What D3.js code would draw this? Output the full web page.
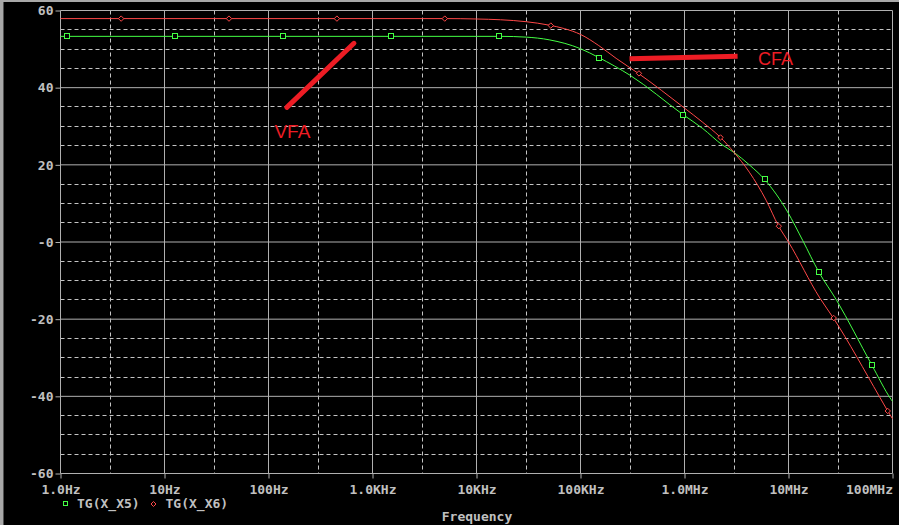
<!DOCTYPE html>
<html><head><meta charset="utf-8">
<script src="https://cdn.jsdelivr.net/npm/d3@7"></script>
<style>
html,body{margin:0;padding:0;background:#000;overflow:hidden}
svg{display:block}
</style></head>
<body>
<script>
// ---- data ----
const xTickValues = [1, 10, 100, 1e3, 1e4, 1e5, 1e6, 1e7, 1e8];
const xTickLabels = ["1.0Hz","10Hz","100Hz","1.0KHz","10KHz","100KHz","1.0MHz","10MHz","100MHz"];
const yTickValues = [-60, -40, -20, 0, 20, 40, 60];
const yTickLabels = ["-60","-40","-20","-0","20","40","60"];
const xMinorValues = [3, 30, 300, 3e3, 3e4, 3e5, 3e6, 3e7];
const yMinorValues = [-55,-50,-45,-35,-30,-25,-15,-10,-5,5,10,15,25,30,35,45,50,55];

// TG(X_X6) (CFA, red)
const x6Freq = [1, 1e3, 5e3, 1e4, 1.7e4, 3e4, 5e4, 7e4, 1e5, 1.5e5, 2.2e5, 3.6e5, 1e6, 1.5e6, 2.2e6, 3e6, 4.2e6, 6.1e6, 8e6, 1e7, 2e7, 2.7e7, 7.5e7, 9e7, 1e8];
const x6dB   = [57.9, 57.9, 57.9, 57.8, 57.6, 57.1, 56.2, 55.3, 53.8, 50.9, 47.6, 43.7, 34.7, 31.0, 27.2, 23.2, 18.1, 10.8, 4.2, 0.0, -14.5, -19.7, -40.1, -43.8, -45.8];
const x6MarkFreq = [3.83, 41.7, 455, 4955, 5.18e4, 3.65e5, 2.22e6, 8.07e6, 2.72e7, 9.0e7];
const x6MarkdB   = [57.9, 57.9, 57.9, 57.9, 56.1, 43.7, 27.1, 4.1, -19.7, -43.8];

// TG(X_X5) (VFA, green)
const x5Freq = [1, 1e3, 1e4, 1.7e4, 3e4, 5e4, 1e5, 1.5e5, 3e5, 9.7e5, 1.5e6, 2.3e6, 3e6, 4.2e6, 5.9e6, 9.8e6, 1.37e7, 1.95e7, 2.9e7, 6.3e7, 9.7e7, 1e8];
const x5dB   = [53.3, 53.3, 53.3, 53.3, 53.1, 52.4, 50.1, 47.8, 43.2, 33.0, 29.4, 25.2, 23.2, 20.0, 16.2, 7.8, 0.4, -7.7, -15.1, -31.8, -40.8, -41.3];
const x5MarkFreq = [1.16, 12.6, 138, 1503, 1.64e4, 1.507e5, 9.66e5, 5.92e6, 1.95e7, 6.31e7];
const x5MarkdB   = [53.3, 53.3, 53.3, 53.3, 53.3, 47.8, 33.0, 16.2, -7.7, -31.8];

const legendLabels = ["TG(X_X5)", "TG(X_X6)"];
const xTitle = "Frequency";
// hand-drawn annotations (in data coordinates)
const vfaStroke = [[150, 34.9], [663, 51.5]];
const vfaText = {f: 114, dB: 26.9, label: "VFA"};
const cfaStroke = [[2.96e5, 47.5], [3.24e6, 48.15]];
const cfaText = {f: 5.1e6, dB: 45.8, label: "CFA"};

// ---- drawing ----
const W = 899, H = 525;
const svg = d3.select("body").append("svg").attr("width", W).attr("height", H);
svg.append("rect").attr("width", W).attr("height", H).attr("fill", "#000");
// window borders
svg.append("rect").attr("x",0).attr("y",0).attr("width",3).attr("height",H).attr("fill","#a8a8a8");
svg.append("rect").attr("x",3).attr("y",0).attr("width",1).attr("height",H).attr("fill","#505050");
svg.append("rect").attr("x",0).attr("y",0).attr("width",W).attr("height",2).attr("fill","#a8a8a8");

const x = d3.scaleLog().domain([1, 1e8]).range([60.5, 892.5]);
const y = d3.scaleLinear().domain([-60, 60]).range([473.5, 10.5]);
const [x0, x1] = x.range(), [yb, yt] = y.range();

const gridSolid = "#b0b0b0", gridDash = "#c4c4c4", textCol = "#c0c0c0";
const g = svg.append("g");

// dashed minor grid
g.selectAll(".vminor").data(xMinorValues).join("line")
  .attr("x1", d => Math.round(x(d)) + 0.5).attr("x2", d => Math.round(x(d)) + 0.5)
  .attr("y1", yt).attr("y2", yb)
  .attr("stroke", gridDash).attr("stroke-dasharray", "4,3");
g.selectAll(".hminor").data(yMinorValues).join("line")
  .attr("y1", d => Math.round(y(d) - 0.5) + 0.5).attr("y2", d => Math.round(y(d) - 0.5) + 0.5)
  .attr("x1", x0).attr("x2", x1)
  .attr("stroke", gridDash).attr("stroke-dasharray", "4,3");
// solid major grid
g.selectAll(".vmajor").data(xTickValues).join("line")
  .attr("x1", d => Math.round(x(d) - 0.5) + 0.5).attr("x2", d => Math.round(x(d) - 0.5) + 0.5)
  .attr("y1", yt).attr("y2", yb)
  .attr("stroke", gridSolid);
g.selectAll(".hmajor").data(yTickValues).join("line")
  .attr("y1", d => y(d)).attr("y2", d => y(d))
  .attr("x1", x0).attr("x2", x1)
  .attr("stroke", gridSolid);

// axes (ticks + labels)
const fontFam = "'DejaVu Sans Mono', 'Liberation Mono', monospace";
const xAxis = d3.axisBottom(x).tickValues(xTickValues)
  .tickFormat((d, i) => xTickLabels[i]).tickSize(5).tickPadding(6).tickSizeOuter(0);
const xa = svg.append("g").attr("transform", `translate(0,${yb})`).call(xAxis);
xa.select(".domain").remove();
xa.selectAll("line").attr("stroke", gridSolid);
xa.selectAll("text").attr("fill", textCol).attr("font-family", fontFam)
  .attr("font-size", 13).attr("font-weight", "bold")
  .attr("text-anchor", (d, i) => i === xTickValues.length - 1 ? "end" : "middle");

const yAxis = d3.axisLeft(y).tickValues(yTickValues)
  .tickFormat((d, i) => yTickLabels[i]).tickSize(5).tickPadding(2).tickSizeOuter(0);
const ya = svg.append("g").attr("transform", `translate(${x0},0)`).call(yAxis);
ya.select(".domain").remove();
ya.selectAll("line").attr("stroke", gridSolid);
ya.selectAll("text").attr("fill", textCol).attr("font-family", fontFam)
  .attr("font-size", 13).attr("font-weight", "bold");

// curves
const line = d3.line().x(d => x(d[0])).y(d => y(d[1])).curve(d3.curveMonotoneX);
const series = [
  {f: x5Freq, v: x5dB, mf: x5MarkFreq, mv: x5MarkdB, color: "#44ff44", mark: "square"},
  {f: x6Freq, v: x6dB, mf: x6MarkFreq, mv: x6MarkdB, color: "#ff4848", mark: "diamond"}
];
series.forEach(s => {
  svg.append("path").datum(s.f.map((f, i) => [f, s.v[i]]))
    .attr("d", line).attr("fill", "none").attr("stroke", s.color).attr("stroke-width", 1);
  const pts = s.mf.map((f, i) => [f, s.mv[i]]);
  if (s.mark === "square") {
    svg.selectAll(null).data(pts).join("rect")
      .attr("x", d => Math.round(x(d[0])) - 2.5).attr("y", d => Math.round(y(d[1])) - 2.5)
      .attr("width", 5).attr("height", 5)
      .attr("fill", "#000").attr("stroke", s.color);
  } else {
    svg.selectAll(null).data(pts).join("path")
      .attr("d", d => { const cx = x(d[0]), cy = y(d[1]), r = 2.7;
        return `M${cx},${cy - r}L${cx + r},${cy}L${cx},${cy + r}L${cx - r},${cy}Z`; })
      .attr("fill", "#000").attr("stroke", s.color);
  }
});

// legend
const lg = svg.append("g");
lg.append("rect").attr("x", 63.5).attr("y", 501.5).attr("width", 4).attr("height", 4)
  .attr("fill", "none").attr("stroke", "#44ff44");
lg.append("text").attr("x", 77).attr("y", 508).text(legendLabels[0]);
lg.append("path").attr("d", "M153.5,501.5L156,504L153.5,506.5L151,504Z")
  .attr("fill", "none").attr("stroke", "#ff4848");
lg.append("text").attr("x", 165.5).attr("y", 508).text(legendLabels[1]);
lg.selectAll("text").attr("fill", textCol).attr("font-family", fontFam)
  .attr("font-size", 13).attr("font-weight", "bold");

svg.append("text").attr("x", (x0 + x1) / 2 + 0.5).attr("y", 521).attr("text-anchor", "middle")
  .attr("fill", textCol).attr("font-family", fontFam).attr("font-size", 13).attr("font-weight", "bold")
  .text(xTitle);

// annotations
const annColor = "#ed1c24";
const sLine = d3.line().x(d => x(d[0])).y(d => y(d[1]));
svg.append("path").attr("d", sLine(vfaStroke)).attr("stroke", annColor)
  .attr("stroke-width", 5).attr("stroke-linecap", "round").attr("fill", "none");
svg.append("path").attr("d", sLine(cfaStroke)).attr("stroke", annColor)
  .attr("stroke-width", 5).attr("stroke-linecap", "butt").attr("fill", "none");
svg.append("text").attr("x", x(vfaText.f)).attr("y", y(vfaText.dB))
  .attr("fill", annColor).attr("font-family", "'Liberation Sans', Arial, sans-serif")
  .attr("font-size", 19).text(vfaText.label);
svg.append("text").attr("x", x(cfaText.f)).attr("y", y(cfaText.dB))
  .attr("fill", annColor).attr("font-family", "'Liberation Sans', Arial, sans-serif")
  .attr("font-size", 18).text(cfaText.label);
</script>
</body></html>
